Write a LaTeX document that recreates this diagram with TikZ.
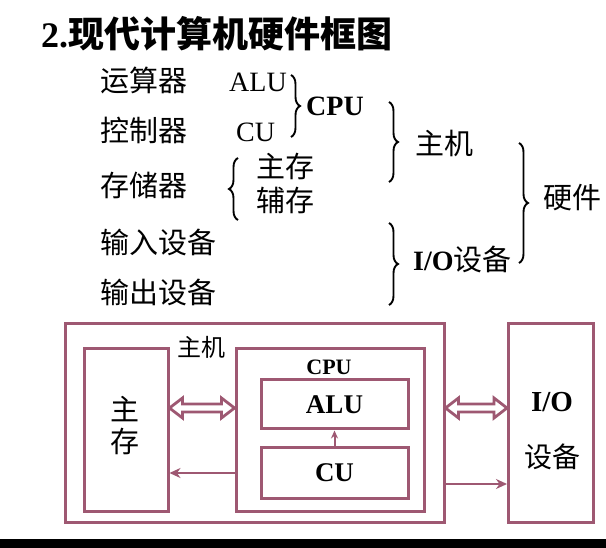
\documentclass[tikz,border=0pt]{standalone}
\usepackage{fontspec}
\setmainfont{Liberation Serif}
\newfontfamily\cjk{Noto Sans CJK SC}
\usetikzlibrary{arrows.meta,calc,decorations.pathreplacing}
\definecolor{mauve}{RGB}{158,88,114}
\tikzset{
  item/.style={anchor=west,inner sep=0pt,font=\cjk\fontsize{29}{30}\selectfont},
  latin/.style={anchor=west,inner sep=0pt,font=\fontsize{28}{30}\selectfont},
  curly/.style={decorate,decoration={brace,amplitude=9pt},line width=1.9pt},
  unit/.style={draw=mauve,line width=3pt,inner sep=0pt},
  hollow/.style={draw=mauve,line width=2.8pt,fill=white,line join=miter},
  flow/.style={draw=mauve,line width=2.8pt,-{Stealth[length=11pt,width=10pt]}}
}
\newcommand\hollowarrow[2]{%
  \draw[hollow] let \p1=(#1), \p2=(#2) in
    (\x1,\y1) -- (\x1+13pt,\y1+10pt) -- (\x1+13pt,\y1+4pt) -- (\x2-13pt,\y2+4pt)
    -- (\x2-13pt,\y2+10pt) -- (\x2,\y2) -- (\x2-13pt,\y2-10pt) -- (\x2-13pt,\y2-4pt)
    -- (\x1+13pt,\y1-4pt) -- (\x1+13pt,\y1-10pt) -- cycle;}

\begin{document}
\begin{tikzpicture}[x=1pt,y=-1pt]
  \fill[white] (0,0) rectangle (606,548);
  \useasboundingbox (0,0) rectangle (606,548);
  % title
  \node[anchor=west,inner sep=0pt] (title) at (41,34)
    {\fontsize{36}{40}\selectfont\bfseries 2.{\cjk 现代计算机硬件框图}};
  % classification
  \node[item] (arith) at (100,80) {运算器};
  \node[item] (ctrl) at (100,130) {控制器};
  \node[item] (store) at (100,185) {存储器};
  \node[item] (input) at (100,242) {输入设备};
  \node[item] (output) at (100,292) {输出设备};
  \node[latin] (alutxt) at (229,82) {ALU};
  \node[latin] (cutxt) at (236,132) {CU};
  \node[latin,font=\bfseries\fontsize{28}{30}\selectfont] (cputxt) at (306,106) {CPU};
  \node[item] (maintxt) at (256,166) {主存};
  \node[item] (auxtxt) at (256,200) {辅存};
  \node[item] (hosttxt) at (415,143) {主机};
  \node[item] (hwtxt) at (543,198) {硬件};
  \node[latin] (iotxt) at (413,259) {\textbf{I/O}{\cjk\fontsize{29}{30}\selectfont 设备}};
  % braces
  \coordinate (cpuA) at (291,75);  \coordinate (cpuB) at (291,137);
  \coordinate (hostA) at (389,102); \coordinate (hostB) at (389,182);
  \coordinate (memA) at (238,220); \coordinate (memB) at (238,158);
  \coordinate (hwA) at (519,143);  \coordinate (hwB) at (519,263);
  \coordinate (ioA) at (389,223);  \coordinate (ioB) at (389,305);
  \draw[curly] (cpuA) -- (cpuB);
  \draw[curly] (hostA) -- (hostB);
  \draw[curly] (memA) -- (memB);
  \draw[curly] (hwA) -- (hwB);
  \draw[curly] (ioA) -- (ioB);
  % block diagram
  \node[unit,minimum width=379pt,minimum height=198pt] (host) at (254.5,423) {};
  \node[unit,minimum width=84pt,minimum height=162pt] (mem) at (126,430) {};
  \node[unit,minimum width=188pt,minimum height=162pt] (cpu) at (330,430) {};
  \node[unit,minimum width=147pt,minimum height=49pt,font=\bfseries\fontsize{27}{30}\selectfont] (alu) at (334.5,404.5) {ALU};
  \node[unit,minimum width=147pt,minimum height=50pt,font=\bfseries\fontsize{27}{30}\selectfont] (cu) at (334.5,473) {CU};
  \node[unit,minimum width=85pt,minimum height=198pt] (io) at (551,423) {};
  \node[inner sep=0pt,font=\cjk\fontsize{24}{26}\selectfont] (hostlbl) at (201,347) {主机};
  \node[inner sep=0pt,font=\bfseries\fontsize{22}{24}\selectfont] (cpulbl) at (329,367) {CPU};
  \node[inner sep=0pt,align=center,font=\cjk\fontsize{29}{32}\selectfont] (memlbl) at (125,426) {主\\存};
  \node[inner sep=0pt,font=\bfseries\fontsize{29}{30}\selectfont] (iolbl) at (552,402) {I/O};
  \node[inner sep=0pt,font=\cjk\fontsize{28}{30}\selectfont] (iodev) at (552,457) {设备};
  % connections
  \hollowarrow{[yshift=22pt]mem.east}{[yshift=22pt]cpu.west}
  \hollowarrow{[yshift=15pt]host.east}{[yshift=15pt]io.west}
  \draw[flow] ([yshift=-43pt]cpu.west) -- ([yshift=-43pt]mem.east);
  \draw[flow] ([yshift=-61pt]host.east) -- ([yshift=-61pt]io.west);
  \draw[draw=mauve,line width=2pt,-{Stealth[length=8pt,width=7pt]}] (cu.north) -- (alu.south);
  \fill[black] (0,539) rectangle (606,548);
\end{tikzpicture}
\end{document}
